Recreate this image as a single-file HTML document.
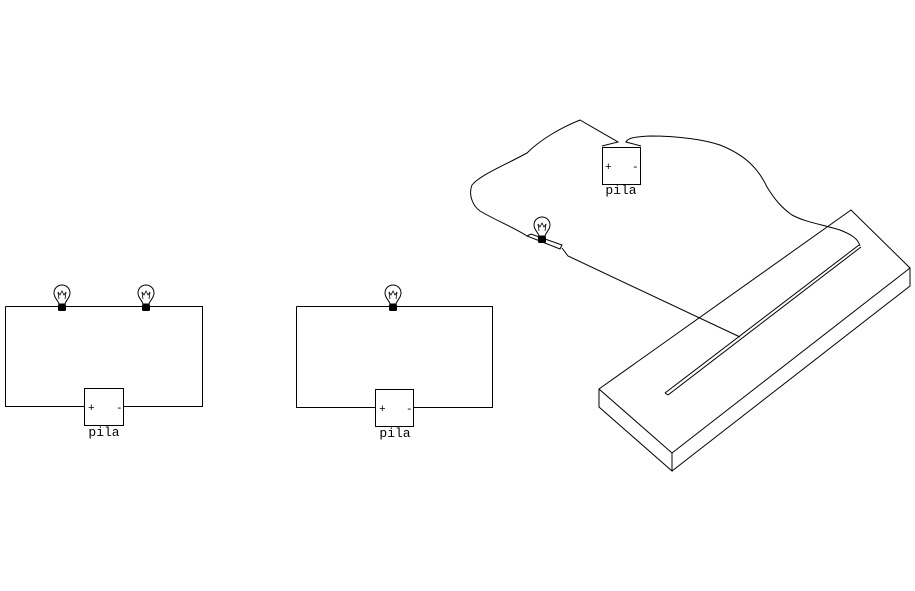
<!DOCTYPE html>
<html><head><meta charset="utf-8"><style>
html,body{margin:0;padding:0;background:#fff;width:915px;height:591px;overflow:hidden}
svg{display:block}
text{font-family:"Liberation Mono",monospace}
</style></head><body>
<svg width="915" height="591" viewBox="0 0 915 591" xmlns="http://www.w3.org/2000/svg">
<defs>
<g id="bulb">
  <path d="M-3,8 C-4,4 -8,2 -8,-3 C-8,-8 -4,-11 0,-11 C4,-11 8,-8 8,-3 C8,2 4,4 3,8 Z" fill="#fff" stroke="#000" stroke-width="1"/>
  <path d="M-3,3 L-4,-4 L-2,-1 L0,-5 L2,-1 L4,-4 L3,3" fill="none" stroke="#000" stroke-width="0.8"/>
  <rect x="-4" y="8" width="8" height="7" rx="1.5" fill="#000"/>
</g>
</defs>
<g fill="none" stroke="#000" stroke-width="1">
  <path d="M5.5,306.5 H202.5 V406.5 H123.5 M84.5,406.5 H5.5 V306.5"/>
  <rect x="84.5" y="388.5" width="39" height="37" fill="#fff"/>
  <path d="M296.5,306.5 H492.5 V407.5 H413.5 M375.5,407.5 H296.5 V306.5"/>
  <rect x="375.5" y="389.5" width="38" height="37" fill="#fff"/>
  <rect x="602.5" y="147.5" width="38" height="37" fill="#fff"/>
  <path d="M602,146 L618,142 L580,120 C560,128 540,140 527,153 C505,165 480,175 472,185 C468,195 473,206 480,211 C495,220 515,228 527,236"/>
  <path d="M641,146 L626,142 C628,138 633,137 650,136 C680,136 705,140 720,145 C745,155 758,168 767,187 C775,200 782,208 792,215 C805,222 820,224 840,230 C850,234 858,238 860,246"/>
  <path d="M562,248 L568,256 L740,337"/>
  <path d="M527,236 L531,234 L562,245 L560,249 Z"/>
  <path d="M599,389 L851,210 L910,268 L672,453 Z"/>
  <path d="M599,389 V407 L672,471 V453 M672,471 L910,286 V268"/>
  <path d="M665,393 L859,245 M668,395 L861,247 M665,393 L668,395"/>
</g>
<use href="#bulb" x="62" y="296"/>
<use href="#bulb" x="146" y="296"/>
<use href="#bulb" x="393" y="296"/>
<use href="#bulb" x="542" y="228"/>
<g font-size="11" fill="#000">
  <text x="88" y="411">+</text><text x="116" y="411">-</text>
  <text x="379" y="412">+</text><text x="406" y="412">-</text>
  <text x="605" y="170">+</text><text x="632" y="170">-</text>
</g>
<g font-size="13" fill="#000" text-anchor="middle">
  <text x="104" y="436">pila</text>
  <text x="395" y="437">pila</text>
  <text x="621" y="194">pila</text>
</g>
</svg>
</body></html>
